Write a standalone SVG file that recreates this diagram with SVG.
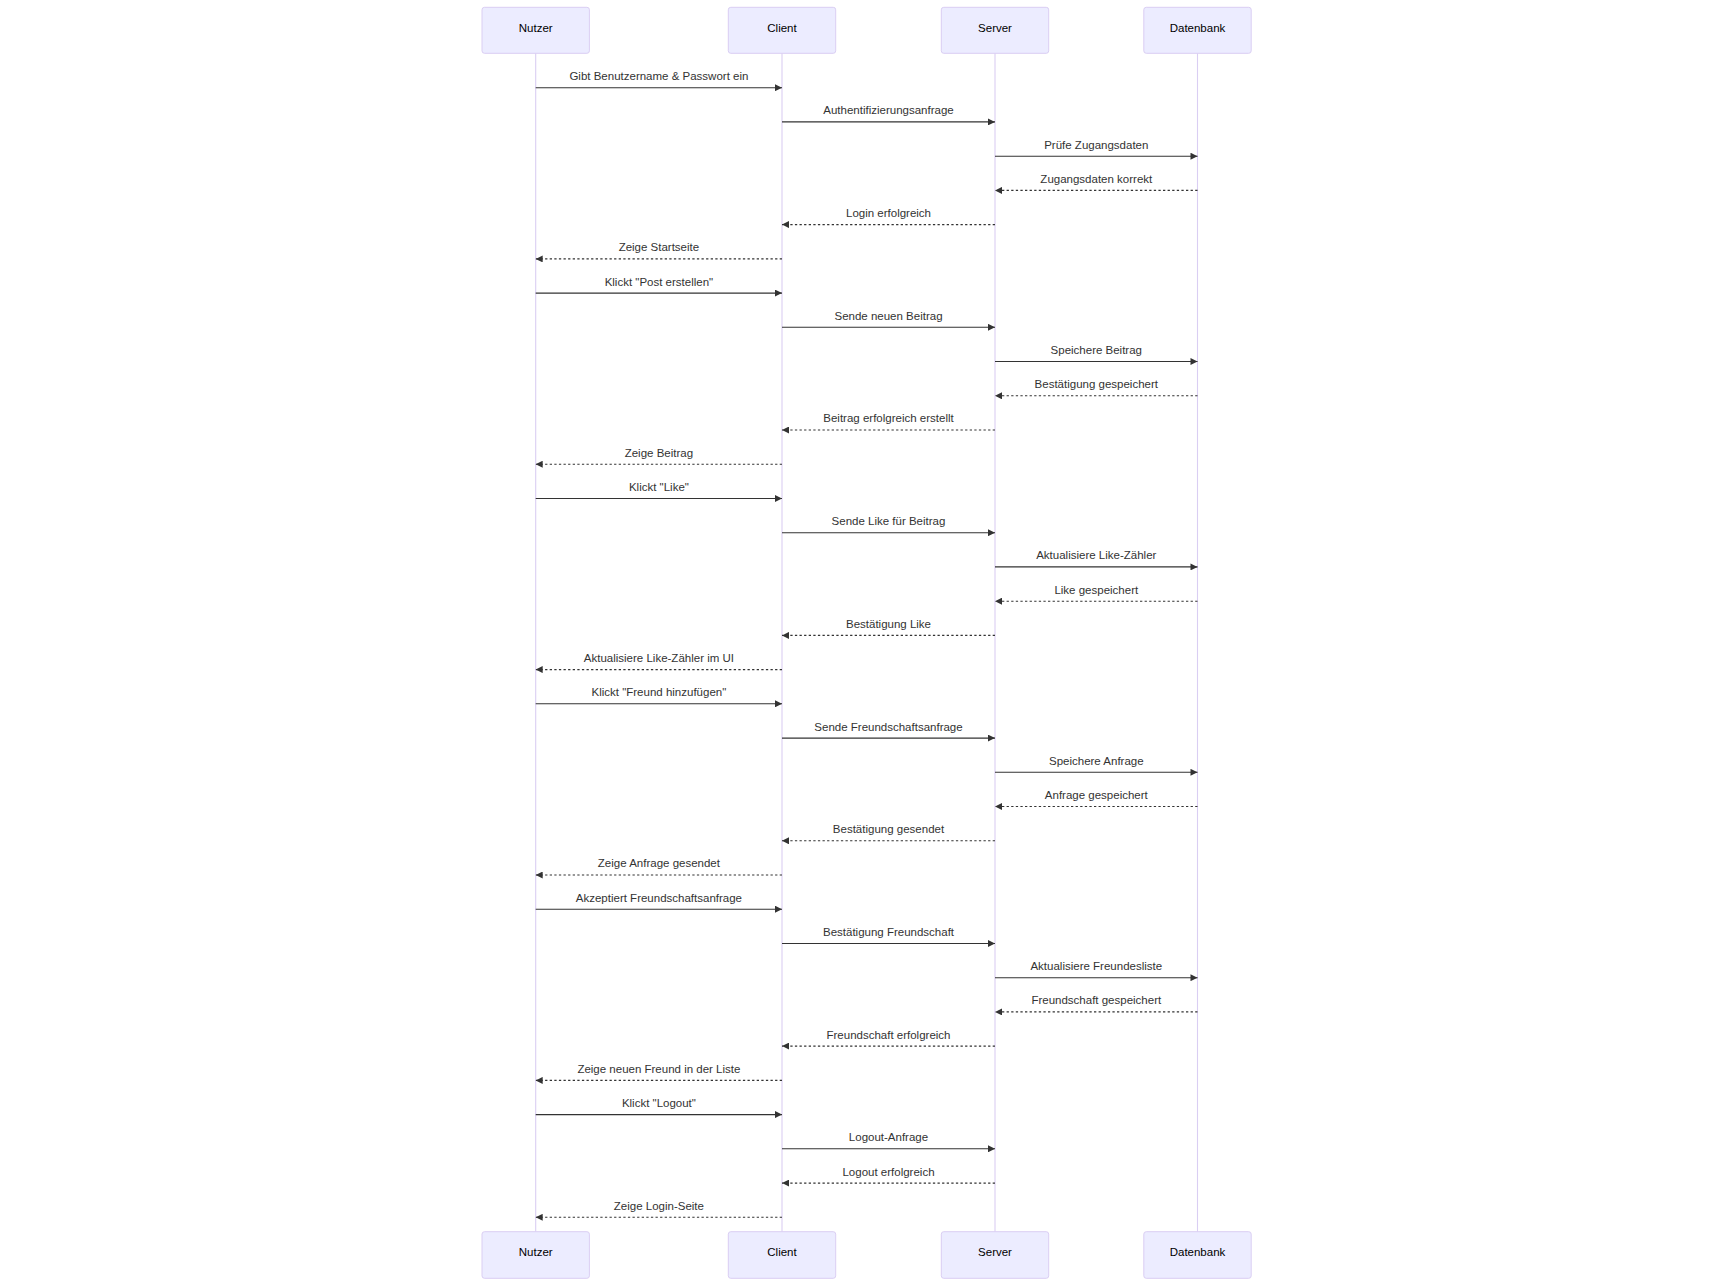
<svg xmlns="http://www.w3.org/2000/svg" width="1733" height="1286" viewBox="0 0 1733 1286">
<defs>
<style>
.actor{fill:#ECECFF;stroke:#DACEF3;stroke-width:1}
.atext{font-family:"Liberation Sans",Arial,sans-serif;font-size:11.5px;fill:#000;text-anchor:middle}
.life{stroke:#DACEF3;stroke-width:1.1;fill:none}
.msg{stroke:#333;stroke-width:1.1;fill:none;marker-end:url(#ah)}
.dash{stroke-dasharray:2.3,2.3}
.mtext{font-family:"Liberation Sans",Arial,sans-serif;font-size:11.5px;fill:#333;text-anchor:middle}
</style>
<marker id="ah" viewBox="0 0 10 10" refX="10" refY="5" markerUnits="userSpaceOnUse" markerWidth="7.5" markerHeight="7" orient="auto">
<path d="M0,0 L10,5 L0,10 z" fill="#333" stroke="none"/>
</marker>
</defs>
<rect width="1733" height="1286" fill="#ffffff"/>
<g id="lifelines">
<line class="life" x1="535.7" y1="53.3" x2="535.7" y2="1231.7"/>
<line class="life" x1="782" y1="53.3" x2="782" y2="1231.7"/>
<line class="life" x1="995" y1="53.3" x2="995" y2="1231.7"/>
<line class="life" x1="1197.5" y1="53.3" x2="1197.5" y2="1231.7"/>
</g>
<g id="actor-nutzer">
<rect class="actor" x="482" y="7.3" width="107.4" height="46" rx="2.5"/>
<text class="atext" x="535.7" y="31.8">Nutzer</text>
<rect class="actor" x="482" y="1231.7" width="107.4" height="46.6" rx="2.5"/>
<text class="atext" x="535.7" y="1256.3">Nutzer</text>
</g>
<g id="actor-client">
<rect class="actor" x="728.3" y="7.3" width="107.4" height="46" rx="2.5"/>
<text class="atext" x="782" y="31.8">Client</text>
<rect class="actor" x="728.3" y="1231.7" width="107.4" height="46.6" rx="2.5"/>
<text class="atext" x="782" y="1256.3">Client</text>
</g>
<g id="actor-server">
<rect class="actor" x="941.3" y="7.3" width="107.4" height="46" rx="2.5"/>
<text class="atext" x="995" y="31.8">Server</text>
<rect class="actor" x="941.3" y="1231.7" width="107.4" height="46.6" rx="2.5"/>
<text class="atext" x="995" y="1256.3">Server</text>
</g>
<g id="actor-datenbank">
<rect class="actor" x="1143.8" y="7.3" width="107.4" height="46" rx="2.5"/>
<text class="atext" x="1197.5" y="31.8">Datenbank</text>
<rect class="actor" x="1143.8" y="1231.7" width="107.4" height="46.6" rx="2.5"/>
<text class="atext" x="1197.5" y="1256.3">Datenbank</text>
</g>
<g id="messages">
<line class="msg" x1="535.7" y1="87.7" x2="782" y2="87.7"/>
<text class="mtext" x="658.9" y="80.1">Gibt Benutzername &amp; Passwort ein</text>
<line class="msg" x1="782" y1="121.9" x2="995" y2="121.9"/>
<text class="mtext" x="888.5" y="114.3">Authentifizierungsanfrage</text>
<line class="msg" x1="995" y1="156.2" x2="1197.5" y2="156.2"/>
<text class="mtext" x="1096.3" y="148.6">Prüfe Zugangsdaten</text>
<line class="msg dash" x1="1197.5" y1="190.4" x2="995" y2="190.4"/>
<text class="mtext" x="1096.3" y="182.8">Zugangsdaten korrekt</text>
<line class="msg dash" x1="995" y1="224.6" x2="782" y2="224.6"/>
<text class="mtext" x="888.5" y="217">Login erfolgreich</text>
<line class="msg dash" x1="782" y1="258.9" x2="535.7" y2="258.9"/>
<text class="mtext" x="658.9" y="251.3">Zeige Startseite</text>
<line class="msg" x1="535.7" y1="293.1" x2="782" y2="293.1"/>
<text class="mtext" x="658.9" y="285.5">Klickt "Post erstellen"</text>
<line class="msg" x1="782" y1="327.3" x2="995" y2="327.3"/>
<text class="mtext" x="888.5" y="319.7">Sende neuen Beitrag</text>
<line class="msg" x1="995" y1="361.5" x2="1197.5" y2="361.5"/>
<text class="mtext" x="1096.3" y="353.9">Speichere Beitrag</text>
<line class="msg dash" x1="1197.5" y1="395.8" x2="995" y2="395.8"/>
<text class="mtext" x="1096.3" y="388.2">Bestätigung gespeichert</text>
<line class="msg dash" x1="995" y1="430" x2="782" y2="430"/>
<text class="mtext" x="888.5" y="422.4">Beitrag erfolgreich erstellt</text>
<line class="msg dash" x1="782" y1="464.2" x2="535.7" y2="464.2"/>
<text class="mtext" x="658.9" y="456.6">Zeige Beitrag</text>
<line class="msg" x1="535.7" y1="498.5" x2="782" y2="498.5"/>
<text class="mtext" x="658.9" y="490.9">Klickt "Like"</text>
<line class="msg" x1="782" y1="532.7" x2="995" y2="532.7"/>
<text class="mtext" x="888.5" y="525.1">Sende Like für Beitrag</text>
<line class="msg" x1="995" y1="566.9" x2="1197.5" y2="566.9"/>
<text class="mtext" x="1096.3" y="559.3">Aktualisiere Like-Zähler</text>
<line class="msg dash" x1="1197.5" y1="601.2" x2="995" y2="601.2"/>
<text class="mtext" x="1096.3" y="593.6">Like gespeichert</text>
<line class="msg dash" x1="995" y1="635.4" x2="782" y2="635.4"/>
<text class="mtext" x="888.5" y="627.8">Bestätigung Like</text>
<line class="msg dash" x1="782" y1="669.6" x2="535.7" y2="669.6"/>
<text class="mtext" x="658.9" y="662">Aktualisiere Like-Zähler im UI</text>
<line class="msg" x1="535.7" y1="703.8" x2="782" y2="703.8"/>
<text class="mtext" x="658.9" y="696.2">Klickt "Freund hinzufügen"</text>
<line class="msg" x1="782" y1="738.1" x2="995" y2="738.1"/>
<text class="mtext" x="888.5" y="730.5">Sende Freundschaftsanfrage</text>
<line class="msg" x1="995" y1="772.3" x2="1197.5" y2="772.3"/>
<text class="mtext" x="1096.3" y="764.7">Speichere Anfrage</text>
<line class="msg dash" x1="1197.5" y1="806.5" x2="995" y2="806.5"/>
<text class="mtext" x="1096.3" y="798.9">Anfrage gespeichert</text>
<line class="msg dash" x1="995" y1="840.8" x2="782" y2="840.8"/>
<text class="mtext" x="888.5" y="833.2">Bestätigung gesendet</text>
<line class="msg dash" x1="782" y1="875" x2="535.7" y2="875"/>
<text class="mtext" x="658.9" y="867.4">Zeige Anfrage gesendet</text>
<line class="msg" x1="535.7" y1="909.2" x2="782" y2="909.2"/>
<text class="mtext" x="658.9" y="901.6">Akzeptiert Freundschaftsanfrage</text>
<line class="msg" x1="782" y1="943.5" x2="995" y2="943.5"/>
<text class="mtext" x="888.5" y="935.9">Bestätigung Freundschaft</text>
<line class="msg" x1="995" y1="977.7" x2="1197.5" y2="977.7"/>
<text class="mtext" x="1096.3" y="970.1">Aktualisiere Freundesliste</text>
<line class="msg dash" x1="1197.5" y1="1011.9" x2="995" y2="1011.9"/>
<text class="mtext" x="1096.3" y="1004.3">Freundschaft gespeichert</text>
<line class="msg dash" x1="995" y1="1046.1" x2="782" y2="1046.1"/>
<text class="mtext" x="888.5" y="1038.5">Freundschaft erfolgreich</text>
<line class="msg dash" x1="782" y1="1080.4" x2="535.7" y2="1080.4"/>
<text class="mtext" x="658.9" y="1072.8">Zeige neuen Freund in der Liste</text>
<line class="msg" x1="535.7" y1="1114.6" x2="782" y2="1114.6"/>
<text class="mtext" x="658.9" y="1107">Klickt "Logout"</text>
<line class="msg" x1="782" y1="1148.8" x2="995" y2="1148.8"/>
<text class="mtext" x="888.5" y="1141.2">Logout-Anfrage</text>
<line class="msg dash" x1="995" y1="1183.1" x2="782" y2="1183.1"/>
<text class="mtext" x="888.5" y="1175.5">Logout erfolgreich</text>
<line class="msg dash" x1="782" y1="1217.3" x2="535.7" y2="1217.3"/>
<text class="mtext" x="658.9" y="1209.7">Zeige Login-Seite</text>
</g>
</svg>
